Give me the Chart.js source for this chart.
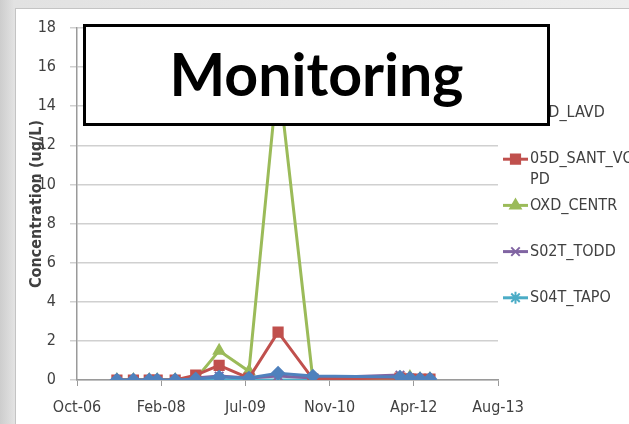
<!DOCTYPE html>
<html>
<head>
<meta charset="utf-8">
<script src="https://cdn.jsdelivr.net/npm/chart.js@4/dist/chart.umd.min.js"></script>
<style>
  body { margin: 0; width: 629px; height: 424px; overflow: hidden;
         background: linear-gradient(to right, #cdcdcd 0px, #e2e2e2 14px, #ededed 100%); }
  #frame { position: absolute; left: 15px; top: 8px; width: 640px; height: 440px;
           background: #fff; border: 1px solid #c4c4c4; }
  #c { position: absolute; left: 0; top: 0; }
  #title { position: absolute; left: 83px; top: 24px; width: 461px; height: 92px;
           border: 3px solid #000; background: #fff; display: flex; align-items: center;
           justify-content: center; font-family: Lato, "DejaVu Sans", sans-serif;
           font-weight: 700; font-size: 59px; color: #000; padding-bottom: 4px; box-sizing: content-box; }
</style>
</head>
<body>
<div id="frame"></div>
<canvas id="c" width="629" height="424"></canvas>
<div id="title">Monitoring</div>
<script>
// sample dates
var dates = ['2007-06-04', '2007-09-10', '2007-12-13', '2008-01-29', '2008-05-15', '2008-09-14', '2009-01-31',
             '2009-07-27', '2010-01-16', '2010-08-11', '2012-01-10', '2012-03-09', '2012-05-08', '2012-07-06'];

var lavd  = [0, 0, 0, 0, 0, 0.05, 0.15, 0.1, 0.35, 0.2, 0.15, 0.1, 0.05, 0.05];
var sant  = [0, 0, 0, 0, 0, 0.25, 0.75, 0.1, 2.45, 0.05, 0.1, 0.05, 0.05, 0.05];
var centr = [0, 0, 0, 0, 0, 0.05, 1.5, 0.45, 15.7, 0, 0.1, 0.15, 0.05, 0.05];
var todd  = [0, 0, 0, 0, 0, 0.1, 0.2, 0.1, 0.2, 0.1, 0.25, 0.1, 0.05, 0.05];
var tapo  = [0, 0, 0, 0, 0, 0, 0, 0, 0, 0, 0.05, 0.05, 0.05, 0.05];

var seriesNames = ['05D_LAVD', '05D_SANT_VCWPD', 'OXD_CENTR', 'S02T_TODD', 'S04T_TAPO'];

// x axis in Excel date serials, ticks every 500 days
var xMin = 39000, xMax = 41500, xStep = 500;
var yMin = 0, yMax = 18, yStep = 2;

var months = ['Jan', 'Feb', 'Mar', 'Apr', 'May', 'Jun', 'Jul', 'Aug', 'Sep', 'Oct', 'Nov', 'Dec'];

function toSerial(iso) {
    return Date.parse(iso) / 86400000 + 25569;
}
function serialLabel(v) {
    var d = new Date((v - 25569) * 86400000);
    return months[d.getUTCMonth()] + '-' + String(d.getUTCFullYear()).slice(2);
}
function points(vals) {
    return dates.map(function(d, i) { return { x: toSerial(d), y: vals[i] }; });
}

var narrow = "'Liberation Sans Narrow', 'DejaVu Sans Condensed', sans-serif";

function series(label, vals, color, style, radius) {
    return {
        label: label,
        data: points(vals),
        borderColor: color,
        backgroundColor: color,
        borderWidth: 3,
        pointStyle: style,
        pointRadius: radius,
        pointBorderWidth: 2,
        tension: 0
    };
}

// legend names longer than this wrap onto a second line, like the excel legend
var wrapAt = 12;

var legendPlugin = {
    id: 'sideLegend',
    afterDraw: function(chart) {
        var ctx = chart.ctx;
        var area = chart.chartArea;
        var x0 = area.right + 5;
        var y0 = area.top + 85;
        ctx.save();
        ctx.font = '16px ' + narrow;
        ctx.textBaseline = 'middle';
        chart.data.datasets.forEach(function(ds, i) {
            var y = y0 + i * 46.2;
            ctx.strokeStyle = ds.borderColor;
            ctx.fillStyle = ds.backgroundColor;
            ctx.lineWidth = 3;
            ctx.beginPath();
            ctx.moveTo(x0, y);
            ctx.lineTo(x0 + 25, y);
            ctx.stroke();
            ctx.lineWidth = 2;
            Chart.helpers.drawPoint(ctx, { pointStyle: ds.pointStyle, radius: ds.pointRadius, rotation: 0, borderWidth: 2 }, x0 + 12.5, y);
            var lines = [];
            for (var k = 0; k < ds.label.length; k += wrapAt) lines.push(ds.label.slice(k, k + wrapAt));
            ctx.fillStyle = '#404040';
            lines.forEach(function(t, k) { ctx.fillText(t, x0 + 27, y + k * 21); });
        });
        ctx.restore();
    }
};

new Chart(document.getElementById('c'), {
    type: 'line',
    data: {
        datasets: [
            series(seriesNames[0], lavd, '#4F81BD', 'rectRot', 6),
            series(seriesNames[1], sant, '#C0504D', 'rect', 6.5),
            series(seriesNames[2], centr, '#9BBB59', 'triangle', 6),
            series(seriesNames[3], todd, '#8064A2', 'crossRot', 6),
            series(seriesNames[4], tapo, '#4BACC6', 'star', 6)
        ]
    },
    options: {
        responsive: false,
        animation: false,
        layout: { padding: { left: 27, right: 131, top: 28, bottom: 0 } },
        plugins: { legend: { display: false }, tooltip: { enabled: false } },
        scales: {
            x: {
                type: 'linear',
                min: xMin, max: xMax,
                afterFit: function(s) { s.height = 44; },
                ticks: { stepSize: xStep, padding: 12, color: '#404040', font: { family: narrow, size: 16 },
                         maxRotation: 0, callback: function(v) { return serialLabel(v); } },
                grid: { drawOnChartArea: false, tickLength: 6, color: '#9a9a9a', lineWidth: 1 },
                border: { color: '#9a9a9a', width: 1.5 }
            },
            y: {
                min: yMin, max: yMax,
                afterFit: function(s) { s.width = 50; },
                ticks: { stepSize: yStep, padding: 14, color: '#404040', font: { family: narrow, size: 16 } },
                grid: { color: '#d0d0d0', lineWidth: 1.5, tickLength: 7 },
                border: { color: '#9a9a9a', width: 1.5 },
                title: { display: true, text: 'Concentration (ug/L)', color: '#404040', padding: 0,
                         font: { family: narrow, size: 16, weight: 'bold' } }
            }
        }
    },
    plugins: [legendPlugin]
});
</script>
</body>
</html>
